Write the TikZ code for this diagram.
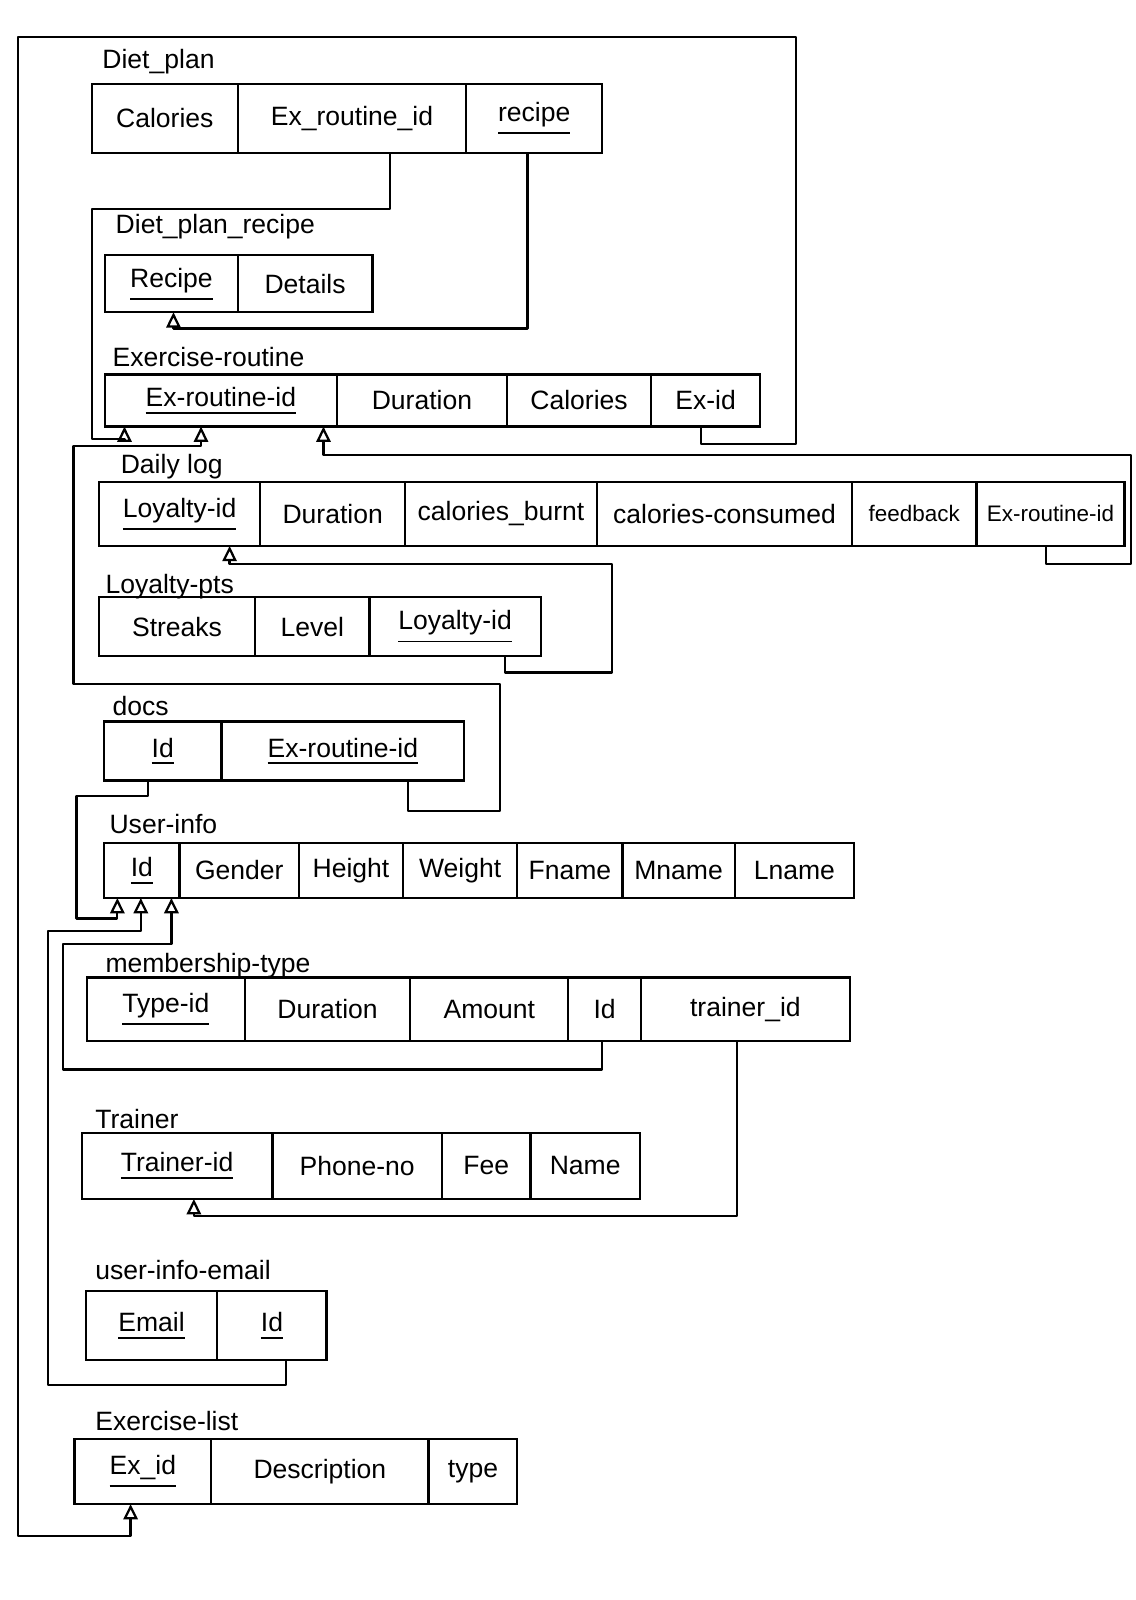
\documentclass[tikz,border=0pt]{standalone}
\usepackage{fontspec}
\setmainfont{Liberation Sans}
\usetikzlibrary{arrows.meta}
% primary-key text: underlined a little below the baseline
\newcommand\pk[1]{\setbox0=\hbox{#1}\vtop{\copy0\kern2.5pt\hrule height 0.9pt width \wd0}}
\begin{document}
\begin{tikzpicture}[x=0.5pt, y=-0.5pt,
  cell/.style 2 args={draw, line width=1.1pt, inner sep=0pt, outer sep=0pt,
    anchor=north west, minimum width=#1*0.5pt, minimum height=#2*0.5pt,
    font=\fontsize{13}{15}\selectfont},
  small/.style={font=\fontsize{11}{13}\selectfont},
  ttl/.style={anchor=west, inner sep=0pt, font=\fontsize{13}{15}\selectfont},
  fk/.style={draw, line width=1.1pt, line join=round,
    -{Triangle[open, length=7.5pt, width=7pt]}}]
\useasboundingbox[fill=white] (0,0) rectangle (1113,1568);

% ---------- Diet_plan ----------
\node[ttl] (t-dp) at (100,60) {Diet\_plan};
\node[cell={143}{68}] (dp1) at (90,82) {Calories};
\node[cell={224}{68}] (dp2) at (dp1.north east) {Ex\_routine\_id};
\node[cell={133}{68}] (dp3) at (dp2.north east) {\pk{recipe}};

% ---------- Diet_plan_recipe ----------
\node[ttl] (t-dr) at (113,222) {Diet\_plan\_recipe};
\node[cell={130}{56}] (dr1) at (103,250) {\pk{Recipe}};
\node[cell={132}{56}] (dr2) at (dr1.north east) {Details};

% ---------- Exercise-routine ----------
\node[ttl] (t-er) at (110,350) {Exercise-routine};
\node[cell={227}{51}] (er1) at (103,367) {\pk{Ex-routine-id}};
\node[cell={167}{51}] (er2) at (er1.north east) {Duration};
\node[cell={141}{51}] (er3) at (er2.north east) {Calories};
\node[cell={107}{51}] (er4) at (er3.north east) {Ex-id};

% ---------- Daily log ----------
\node[ttl] (t-dl) at (118,457) {Daily log};
\node[cell={158}{63}] (dl1) at (97,472) {\pk{Loyalty-id}};
\node[cell={142}{63}] (dl2) at (dl1.north east) {Duration};
\node[cell={188}{63}] (dl3) at (dl2.north east) {calories\_burnt};
\node[cell={250}{63}] (dl4) at (dl3.north east) {calories-consumed};
\node[cell={122}{63}, small] (dl5) at (dl4.north east) {feedback};
\node[cell={145}{63}, small] (dl6) at (dl5.north east) {Ex-routine-id};

% ---------- Loyalty-pts ----------
\node[ttl] (t-lp) at (103,575) {Loyalty-pts};
\node[cell={153}{58}] (lp1) at (97,585) {Streaks};
\node[cell={112}{58}] (lp2) at (lp1.north east) {Level};
\node[cell={168}{58}] (lp3) at (lp2.north east) {\pk{Loyalty-id}};

% ---------- docs ----------
\node[ttl] (t-dc) at (110,692) {docs};
\node[cell={115}{58}] (dc1) at (102,707) {\pk{Id}};
\node[cell={238}{58}] (dc2) at (dc1.north east) {\pk{Ex-routine-id}};

% ---------- User-info ----------
\node[ttl] (t-ui) at (107,808) {User-info};
\node[cell={74}{54}] (ui1) at (102,826) {\pk{Id}};
\node[cell={117}{54}] (ui2) at (ui1.north east) {Gender};
\node[cell={102}{54}] (ui3) at (ui2.north east) {Height};
\node[cell={112}{54}] (ui4) at (ui3.north east) {Weight};
\node[cell={103}{54}] (ui5) at (ui4.north east) {Fname};
\node[cell={110}{54}] (ui6) at (ui5.north east) {Mname};
\node[cell={117}{54}] (ui7) at (ui6.north east) {Lname};

% ---------- membership-type ----------
\node[ttl] (t-mt) at (103,946) {membership-type};
\node[cell={155}{62}] (mt1) at (85,958) {\pk{Type-id}};
\node[cell={162}{62}] (mt2) at (mt1.north east) {Duration};
\node[cell={155}{62}] (mt3) at (mt2.north east) {Amount};
\node[cell={71}{62}] (mt4) at (mt3.north east) {Id};
\node[cell={205}{62}] (mt5) at (mt4.north east) {trainer\_id};

% ---------- Trainer ----------
\node[ttl] (t-tr) at (93,1097) {Trainer};
\node[cell={187}{65}] (tr1) at (80,1110) {\pk{Trainer-id}};
\node[cell={166}{65}] (tr2) at (tr1.north east) {Phone-no};
\node[cell={87}{65}] (tr3) at (tr2.north east) {Fee};
\node[cell={107}{65}] (tr4) at (tr3.north east) {Name};

% ---------- user-info-email ----------
\node[ttl] (t-ue) at (93,1245) {user-info-email};
\node[cell={129}{68}] (ue1) at (84,1265) {\pk{Email}};
\node[cell={107}{68}] (ue2) at (ue1.north east) {\pk{Id}};

% ---------- Exercise-list ----------
\node[ttl] (t-el) at (93,1393) {Exercise-list};
\node[cell={134}{64}] (el1) at (73,1410) {\pk{Ex\_id}};
\node[cell={213}{64}] (el2) at (el1.north east) {Description};
\node[cell={87}{64}] (el3) at (el2.north east) {type};

% ---------- foreign keys ----------
% Exercise-routine.Ex-id -> Exercise-list.Ex_id (around the whole page)
\draw[fk] (er4.south -| 687,0) -- (687,435) -- (780,435) -- (780,36)
  -- (18,36) -- (18,1505) -- (128,1505) -- (el1.south -| 128,0);
% Diet_plan.Ex_routine_id -> Exercise-routine.Ex-routine-id
\draw[fk] (dp2.south -| 382,0) -- (382,205) -- (90,205) -- (90,430)
  -- (122,430) -- (er1.south -| 122,0);
% Diet_plan.recipe -> Diet_plan_recipe.Recipe
\draw[fk] (dp3.south -| 517,0) -- (517,322) -- (170,322) -- (dr1.south -| 170,0);
% docs.Ex-routine-id -> Exercise-routine.Ex-routine-id
\draw[fk] (dc2.south -| 400,0) -- (400,795) -- (490,795) -- (490,670)
  -- (72,670) -- (72,437) -- (197,437) -- (er1.south -| 197,0);
% Daily log.Ex-routine-id -> Exercise-routine.Ex-routine-id
\draw[fk] (dl6.south -| 1025,0) -- (1025,553) -- (1108,553) -- (1108,446)
  -- (317,446) -- (er1.south -| 317,0);
% Loyalty-pts.Loyalty-id -> Daily log.Loyalty-id
\draw[fk] (lp3.south -| 495,0) -- (495,659) -- (600,659) -- (600,553)
  -- (225,553) -- (dl1.south -| 225,0);
% docs.Id -> User-info.Id
\draw[fk] (dc1.south -| 145,0) -- (145,780) -- (75,780) -- (75,900)
  -- (115,900) -- (ui1.south -| 115,0);
% user-info-email.Id -> User-info.Id
\draw[fk] (ue2.south -| 280,0) -- (280,1357) -- (47,1357) -- (47,912)
  -- (138,912) -- (ui1.south -| 138,0);
% membership-type.Id -> User-info.Id
\draw[fk] (mt4.south -| 590,0) -- (590,1048) -- (62,1048) -- (62,925)
  -- (168,925) -- (ui1.south -| 168,0);
% membership-type.trainer_id -> Trainer.Trainer-id
\draw[fk] (mt5.south -| 722,0) -- (722,1192) -- (190,1192) -- (tr1.south -| 190,0);
\end{tikzpicture}
\end{document}
